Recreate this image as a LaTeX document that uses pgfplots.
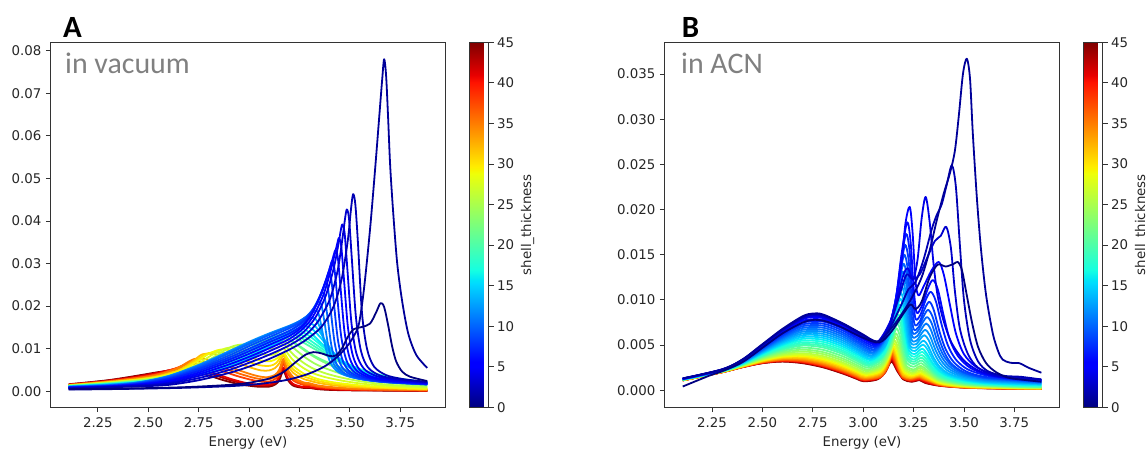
\documentclass[border=0pt]{standalone}
\usepackage{fontspec}
\setmainfont{DejaVu Sans}
\newfontfamily\calibri{Carlito}
\usepackage{pgfplots}
\pgfplotsset{compat=1.18}
\pgfkeys{/pgf/number format/assume math mode=true}

% matplotlib jet, sampled at the plotted shell thicknesses (t/45)
\definecolor{j0}{rgb}{0,0,0.5}
\definecolor{j1}{rgb}{0,0,0.601}
\definecolor{j2}{rgb}{0,0,0.702}
\definecolor{j3}{rgb}{0,0,0.803}
\definecolor{j4}{rgb}{0,0,0.904}
\definecolor{j5}{rgb}{0,0,1}
\definecolor{j6}{rgb}{0,0.033,1}
\definecolor{j7}{rgb}{0,0.122,1}
\definecolor{j8}{rgb}{0,0.211,1}
\definecolor{j9}{rgb}{0,0.3,1}
\definecolor{j10}{rgb}{0,0.389,1}
\definecolor{j11}{rgb}{0,0.478,1}
\definecolor{j12}{rgb}{0,0.567,1}
\definecolor{j13}{rgb}{0,0.656,1}
\definecolor{j14}{rgb}{0,0.744,1}
\definecolor{j15}{rgb}{0,0.833,1}
\definecolor{j16}{rgb}{0.018,0.922,0.95}
\definecolor{j17}{rgb}{0.09,1,0.877}
\definecolor{j18}{rgb}{0.161,1,0.806}
\definecolor{j19}{rgb}{0.233,1,0.735}
\definecolor{j20}{rgb}{0.305,1,0.663}
\definecolor{j21h}{rgb}{0.412,1,0.555}
\definecolor{j23}{rgb}{0.52,1,0.448}
\definecolor{j24h}{rgb}{0.628,1,0.34}
\definecolor{j26}{rgb}{0.735,1,0.233}
\definecolor{j27h}{rgb}{0.842,1,0.126}
\definecolor{j29}{rgb}{0.95,0.984,0.018}
\definecolor{j30h}{rgb}{1,0.859,0}
\definecolor{j32}{rgb}{1,0.737,0}
\definecolor{j33h}{rgb}{1,0.615,0}
\definecolor{j35}{rgb}{1,0.49,0}
\definecolor{j36}{rgb}{1,0.407,0}
\definecolor{j36h}{rgb}{1,0.366,0}
\definecolor{j38}{rgb}{1,0.243,0}
\definecolor{j39h}{rgb}{1,0.119,0}
\definecolor{j41}{rgb}{0.904,0,0}
\definecolor{j43}{rgb}{0.702,0,0}
\definecolor{j45}{rgb}{0.5,0,0}

\tikzset{lbl/.style={font=\fontsize{13.4}{16}\selectfont, text=black!85}}

\pgfplotsset{
  colormap={mjet}{rgb(0pt)=(0,0,0.5) rgb(11pt)=(0,0,1) rgb(12.5pt)=(0,0,1)
    rgb(34pt)=(0,0.86,1) rgb(35pt)=(0,0.9,0.968) rgb(37.5pt)=(0.081,1,0.887)
    rgb(64pt)=(0.935,1,0.032) rgb(65pt)=(0.968,0.963,0) rgb(66pt)=(1,0.926,0)
    rgb(89pt)=(1,0.074,0) rgb(91pt)=(0.909,0,0) rgb(100pt)=(0.5,0,0)},
  panel/.style={
    scale only axis, width=394.5bp, height=365bp, anchor=south west,
    xmin=2.016, xmax=3.973,
    tick pos=left, tick align=outside, major tick length=4.9bp,
    tick style={line width=0.9bp, color=black!80},
    axis line style={line width=0.9bp, color=black!80},
    xtick={2.25,2.5,2.75,3,3.25,3.5,3.75},
    xticklabel style={/pgf/number format/.cd, fixed, fixed zerofill, precision=2},
    xticklabel shift=1.5bp, yticklabel shift=1bp,
    tick label style={lbl},
    label style={lbl},
    xlabel={Energy (eV)},
    xlabel style={yshift=-2.5bp},
    colormap name=mjet, colorbar,
    point meta min=0, point meta max=45,
    colorbar shift/.style={xshift=24.5bp},
    colorbar style={
      scale only axis, width=19bp, height=365bp,
      at={(parent axis.north east)}, anchor=north west,
      ytick={0,5,...,45}, ytick pos=right, yticklabel pos=right,
      tick align=outside, major tick length=4.9bp,
      tick style={line width=0.9bp, color=black!80},
      axis line style={line width=0.9bp, color=black!80},
      tick label style={lbl}, label style={lbl},
      ylabel={shell\_thickness},
    },
    every axis plot/.append style={line width=1.8bp, smooth, line join=round},
  },
}

\begin{document}
\begin{tikzpicture}
\useasboundingbox (0,0) rectangle (1146bp,451bp);

% ---------- A: in vacuum (y values in units of 1e-3) ----------
\begin{axis}[panel, at={(50.7bp,43.7bp)},
  ymin=-3.76, ymax=81.97, ytick={0,10,...,80},
  yticklabels={0.00,0.01,0.02,0.03,0.04,0.05,0.06,0.07,0.08}]
\addplot[j45] coordinates {(2.105,1.65)(2.3,2.6)(2.45,3.7)(2.55,4.5)(2.64,5.0)(2.72,4.7)(2.8,3.7)(2.88,2.5)(2.96,1.6)(3.04,1.1)(3.1,1.1)(3.13,1.6)(3.15,2.6)(3.17,4.8)(3.19,2.8)(3.22,1.3)(3.27,0.8)(3.3,0.8)(3.34,0.5)(3.42,0.3)(3.55,0.2)(3.884,0.1)};
\addplot[j43] coordinates {(2.105,1.6)(2.3,2.52)(2.45,3.57)(2.55,4.42)(2.655,5.3)(2.74,5.0)(2.82,3.95)(2.9,2.7)(2.98,1.75)(3.05,1.3)(3.105,1.4)(3.135,2.1)(3.17,5.2)(3.19,3.05)(3.22,1.5)(3.27,0.9)(3.3,0.9)(3.34,0.6)(3.42,0.38)(3.55,0.25)(3.884,0.12)};
\addplot[j41] coordinates {(2.105,1.55)(2.3,2.45)(2.45,3.45)(2.55,4.35)(2.67,5.6)(2.75,5.3)(2.83,4.2)(2.91,2.9)(2.99,1.9)(3.06,1.5)(3.11,1.7)(3.14,2.6)(3.17,5.6)(3.19,3.3)(3.22,1.7)(3.27,1.0)(3.3,1.0)(3.34,0.7)(3.42,0.45)(3.55,0.3)(3.884,0.15)};
\addplot[j38] coordinates {(2.105,1.5)(2.3,2.35)(2.45,3.25)(2.55,4.1)(2.63,5.3)(2.7,6.4)(2.78,6.1)(2.86,4.9)(2.94,3.6)(3.02,2.6)(3.08,2.2)(3.12,2.6)(3.15,3.9)(3.17,6.5)(3.19,4.3)(3.22,2.5)(3.27,1.5)(3.3,1.4)(3.34,1.0)(3.42,0.65)(3.55,0.4)(3.884,0.2)};
\addplot[j36] coordinates {(2.105,1.47)(2.3,2.3)(2.45,3.15)(2.55,3.97)(2.64,5.3)(2.715,7.0)(2.795,6.7)(2.875,5.45)(2.955,4.1)(3.03,3.1)(3.085,2.75)(3.125,3.25)(3.15,4.5)(3.17,7.05)(3.19,4.8)(3.22,2.9)(3.27,1.8)(3.3,1.65)(3.34,1.2)(3.42,0.8)(3.55,0.5)(3.884,0.25)};
\addplot[j35] coordinates {(2.105,1.45)(2.3,2.25)(2.45,3.05)(2.55,3.85)(2.64,5.3)(2.73,7.6)(2.81,7.3)(2.89,6.0)(2.97,4.6)(3.04,3.6)(3.09,3.3)(3.13,3.9)(3.15,5.1)(3.17,7.6)(3.19,5.3)(3.22,3.3)(3.27,2.1)(3.3,1.9)(3.34,1.4)(3.42,0.95)(3.55,0.6)(3.884,0.3)};
\addplot[j32] coordinates {(2.105,1.4)(2.3,2.15)(2.45,2.85)(2.55,3.6)(2.65,5.0)(2.72,7.0)(2.77,8.7)(2.84,8.6)(2.92,7.2)(3.0,5.7)(3.06,4.9)(3.1,4.9)(3.13,5.5)(3.15,6.6)(3.17,8.4)(3.19,6.3)(3.22,4.3)(3.27,2.9)(3.3,2.5)(3.34,2.0)(3.42,1.4)(3.55,0.9)(3.884,0.45)};
\addplot[j30h] coordinates {(2.105,1.37)(2.3,2.1)(2.45,2.78)(2.55,3.47)(2.65,4.8)(2.73,6.95)(2.785,8.75)(2.85,9.2)(2.925,8.3)(3.0,6.9)(3.06,6.05)(3.105,6.0)(3.135,6.65)(3.17,8.75)(3.19,7.05)(3.22,5.1)(3.27,3.55)(3.3,3.05)(3.34,2.45)(3.42,1.75)(3.55,1.15)(3.7,0.75)(3.884,0.52)};
\addplot[j29] coordinates {(2.105,1.35)(2.3,2.05)(2.45,2.7)(2.55,3.35)(2.65,4.6)(2.74,6.9)(2.8,8.8)(2.86,9.8)(2.93,9.4)(3.0,8.1)(3.06,7.2)(3.11,7.1)(3.14,7.8)(3.17,9.1)(3.19,7.8)(3.22,5.9)(3.27,4.2)(3.3,3.6)(3.34,2.9)(3.42,2.1)(3.55,1.4)(3.7,0.9)(3.884,0.6)};
\addplot[j27h] coordinates {(2.105,1.32)(2.3,2.0)(2.45,2.62)(2.55,3.25)(2.65,4.4)(2.745,6.45)(2.815,8.5)(2.885,10.1)(2.95,10.2)(3.02,9.35)(3.08,8.6)(3.125,8.65)(3.17,10.05)(3.19,9.0)(3.22,7.25)(3.27,5.45)(3.32,4.2)(3.38,3.3)(3.46,2.5)(3.56,1.8)(3.7,1.2)(3.884,0.8)};
\addplot[j26] coordinates {(2.105,1.3)(2.3,1.95)(2.45,2.55)(2.55,3.15)(2.65,4.2)(2.75,6.0)(2.83,8.2)(2.91,10.4)(2.97,11.0)(3.04,10.6)(3.1,10.0)(3.14,10.2)(3.17,11.0)(3.19,10.2)(3.22,8.6)(3.27,6.7)(3.32,5.3)(3.38,4.2)(3.46,3.2)(3.56,2.3)(3.7,1.5)(3.884,1.0)};
\addplot[j24h] coordinates {(2.105,1.27)(2.3,1.9)(2.45,2.47)(2.55,3.05)(2.65,4.0)(2.75,5.6)(2.84,7.7)(2.92,9.9)(2.985,11.1)(3.05,11.3)(3.105,11.0)(3.14,11.15)(3.17,11.75)(3.2,11.0)(3.235,9.6)(3.28,7.9)(3.33,6.4)(3.39,5.2)(3.47,3.95)(3.57,2.85)(3.7,1.95)(3.884,1.25)};
\addplot[j23] coordinates {(2.105,1.25)(2.3,1.85)(2.45,2.4)(2.55,2.95)(2.65,3.8)(2.75,5.2)(2.85,7.2)(2.93,9.4)(3.0,11.2)(3.06,12.0)(3.11,12.0)(3.14,12.1)(3.17,12.5)(3.2,12.0)(3.24,10.8)(3.29,9.1)(3.34,7.6)(3.4,6.2)(3.48,4.7)(3.58,3.4)(3.7,2.4)(3.884,1.5)};
\addplot[j21h] coordinates {(2.105,1.22)(2.3,1.8)(2.45,2.35)(2.55,2.87)(2.65,3.65)(2.75,4.9)(2.85,6.75)(2.94,9.0)(3.015,11.0)(3.075,12.15)(3.12,12.5)(3.16,12.75)(3.19,12.6)(3.225,11.4)(3.27,10.0)(3.32,8.4)(3.38,7.0)(3.45,5.6)(3.54,4.2)(3.65,3.1)(3.884,1.7)};
\addplot[j20] coordinates {(2.105,1.2)(2.3,1.75)(2.45,2.3)(2.55,2.8)(2.65,3.5)(2.75,4.6)(2.85,6.3)(2.95,8.6)(3.03,10.8)(3.09,12.3)(3.13,13.0)(3.17,13.3)(3.21,12.9)(3.25,12.0)(3.3,10.6)(3.36,9.0)(3.43,7.3)(3.5,5.8)(3.6,4.2)(3.72,3.0)(3.884,1.9)};
\addplot[j19] coordinates {(2.105,1.17)(2.3,1.7)(2.45,2.25)(2.55,2.72)(2.65,3.4)(2.75,4.4)(2.85,6.0)(2.95,8.2)(3.03,10.35)(3.095,12.05)(3.14,13.05)(3.18,13.6)(3.22,13.35)(3.26,12.5)(3.31,11.0)(3.37,9.2)(3.44,7.35)(3.515,5.7)(3.61,4.2)(3.73,3.0)(3.884,2.0)};
\addplot[j18] coordinates {(2.105,1.15)(2.3,1.65)(2.45,2.2)(2.55,2.65)(2.65,3.3)(2.75,4.2)(2.85,5.7)(2.95,7.8)(3.03,9.9)(3.1,11.8)(3.15,13.1)(3.19,13.9)(3.23,13.8)(3.27,13.0)(3.32,11.4)(3.38,9.4)(3.45,7.4)(3.53,5.6)(3.62,4.2)(3.74,3.0)(3.884,2.1)};
\addplot[j17] coordinates {(2.105,1.12)(2.3,1.62)(2.45,2.15)(2.55,2.57)(2.65,3.2)(2.75,4.05)(2.85,5.45)(2.95,7.45)(3.03,9.45)(3.1,11.35)(3.155,12.85)(3.195,13.85)(3.235,14.25)(3.27,13.8)(3.315,12.45)(3.37,10.3)(3.435,7.95)(3.515,5.8)(3.6,4.3)(3.71,3.1)(3.884,2.05)};
\addplot[j16] coordinates {(2.105,1.1)(2.3,1.6)(2.45,2.1)(2.55,2.5)(2.65,3.1)(2.75,3.9)(2.85,5.2)(2.95,7.1)(3.03,9.0)(3.1,10.9)(3.16,12.6)(3.2,13.8)(3.24,14.7)(3.27,14.6)(3.31,13.5)(3.36,11.2)(3.42,8.5)(3.5,6.0)(3.58,4.4)(3.68,3.2)(3.78,2.5)(3.884,2.0)};
\addplot[j15] coordinates {(2.105,1.07)(2.3,1.57)(2.45,2.05)(2.55,2.42)(2.65,3.0)(2.75,3.8)(2.85,5.05)(2.95,6.85)(3.03,8.7)(3.1,10.55)(3.16,12.25)(3.205,13.6)(3.245,14.75)(3.28,15.25)(3.315,14.55)(3.355,12.6)(3.405,9.75)(3.47,6.9)(3.54,5.0)(3.63,3.6)(3.73,2.75)(3.884,1.95)};
\addplot[j14] coordinates {(2.105,1.05)(2.3,1.55)(2.45,2.0)(2.55,2.35)(2.65,2.9)(2.75,3.7)(2.85,4.9)(2.95,6.6)(3.03,8.4)(3.1,10.2)(3.16,11.9)(3.21,13.4)(3.25,14.8)(3.29,15.9)(3.32,15.6)(3.35,14.0)(3.39,11.0)(3.44,7.8)(3.5,5.5)(3.58,3.9)(3.68,2.9)(3.78,2.3)(3.884,1.9)};
\addplot[j13] coordinates {(2.105,1.05)(2.3,1.5)(2.45,2.05)(2.6,3.25)(2.75,4.95)(2.9,7.5)(3.0,9.5)(3.1,11.9)(3.2,14.2)(3.25,15.6)(3.29,16.8)(3.315,17.3)(3.33,17.0)(3.35,15.2)(3.375,11.6)(3.41,8.0)(3.45,5.6)(3.52,4.1)(3.6,3.2)(3.72,2.4)(3.884,1.8)};
\addplot[j12] coordinates {(2.105,1.05)(2.3,1.45)(2.45,2.1)(2.6,3.6)(2.75,6.2)(2.9,9.4)(3.0,11.6)(3.1,13.6)(3.2,15.4)(3.25,16.5)(3.29,17.7)(3.315,18.6)(3.332,19.0)(3.345,18.2)(3.36,15.0)(3.38,10.2)(3.405,6.6)(3.44,4.6)(3.5,3.4)(3.6,2.6)(3.72,2.1)(3.884,1.7)};
\addplot[j11] coordinates {(2.105,1.02)(2.3,1.4)(2.45,2.05)(2.6,3.5)(2.75,6.0)(2.9,9.15)(3.0,11.35)(3.1,13.4)(3.2,15.3)(3.25,16.45)(3.29,17.75)(3.315,19.0)(3.333,20.3)(3.348,21.0)(3.36,20.1)(3.374,16.3)(3.394,10.4)(3.42,6.45)(3.457,4.4)(3.52,3.2)(3.63,2.4)(3.884,1.65)};
\addplot[j10] coordinates {(2.105,1.0)(2.3,1.35)(2.45,2.0)(2.6,3.4)(2.75,5.8)(2.9,8.9)(3.0,11.1)(3.1,13.2)(3.2,15.2)(3.25,16.4)(3.29,17.8)(3.32,19.5)(3.34,21.2)(3.354,22.5)(3.364,23.2)(3.375,22.2)(3.389,17.5)(3.409,10.6)(3.435,6.3)(3.475,4.2)(3.54,3.0)(3.66,2.2)(3.884,1.6)};
\addplot[j9] coordinates {(2.105,0.98)(2.3,1.3)(2.45,1.9)(2.6,3.2)(2.75,5.5)(2.9,8.4)(3.0,10.6)(3.1,12.7)(3.2,14.8)(3.25,16.1)(3.29,17.6)(3.325,19.8)(3.35,22.2)(3.366,24.1)(3.374,25.0)(3.38,25.5)(3.391,24.3)(3.405,19.0)(3.425,11.3)(3.451,6.6)(3.49,4.3)(3.555,3.0)(3.67,2.2)(3.884,1.6)};
\addplot[j8] coordinates {(2.105,0.95)(2.3,1.25)(2.45,1.8)(2.6,3.0)(2.75,5.2)(2.9,7.9)(3.0,10.0)(3.1,12.1)(3.2,14.2)(3.25,15.7)(3.29,17.4)(3.33,20.1)(3.365,23.8)(3.38,25.8)(3.389,27.1)(3.396,28.0)(3.407,26.6)(3.421,20.6)(3.441,12.0)(3.467,6.9)(3.505,4.4)(3.57,3.0)(3.68,2.2)(3.884,1.7)};
\addplot[j7] coordinates {(2.105,0.9)(2.3,1.2)(2.45,1.7)(2.6,2.8)(2.75,4.8)(2.9,7.4)(3.0,9.4)(3.1,11.5)(3.2,13.6)(3.26,15.4)(3.3,17.6)(3.345,21.4)(3.38,25.7)(3.396,28.2)(3.405,29.7)(3.412,30.6)(3.423,29.0)(3.437,22.4)(3.457,12.9)(3.483,7.3)(3.52,4.6)(3.585,3.1)(3.69,2.3)(3.884,1.7)};
\addplot[j6] coordinates {(2.105,0.85)(2.3,1.15)(2.45,1.6)(2.6,2.5)(2.75,4.4)(2.9,6.9)(3.0,8.8)(3.1,10.9)(3.2,13.0)(3.26,15.0)(3.31,18.0)(3.355,22.7)(3.39,27.4)(3.411,30.5)(3.421,32.2)(3.429,33.2)(3.44,31.5)(3.454,24.2)(3.474,13.8)(3.5,7.7)(3.535,4.8)(3.6,3.2)(3.7,2.4)(3.884,1.8)};
\addplot[j5] coordinates {(2.105,0.8)(2.3,1.1)(2.45,1.5)(2.6,2.3)(2.75,4.0)(2.9,6.3)(3.0,8.1)(3.1,10.1)(3.2,12.3)(3.27,14.8)(3.32,17.8)(3.37,22.8)(3.405,28.4)(3.428,32.8)(3.438,34.8)(3.446,36.0)(3.457,34.2)(3.471,26.2)(3.491,14.8)(3.516,8.2)(3.55,5.0)(3.61,3.4)(3.7,2.6)(3.884,1.9)};
\addplot[j4] coordinates {(2.105,0.75)(2.3,1.05)(2.45,1.4)(2.6,2.0)(2.75,3.6)(2.9,5.6)(3.0,7.4)(3.1,9.4)(3.2,11.6)(3.27,13.9)(3.33,17.4)(3.38,22.4)(3.42,28.9)(3.445,35.0)(3.455,37.8)(3.463,39.2)(3.474,37.2)(3.488,28.5)(3.508,16.0)(3.533,8.8)(3.57,5.3)(3.63,3.6)(3.72,2.7)(3.884,2.0)};
\addplot[j3] coordinates {(2.105,0.7)(2.3,1.0)(2.45,1.3)(2.6,1.8)(2.75,3.1)(2.9,5.0)(3.0,6.7)(3.1,8.6)(3.2,10.8)(3.28,13.2)(3.34,16.3)(3.4,21.5)(3.44,28.5)(3.465,36.5)(3.476,40.5)(3.485,42.7)(3.496,40.5)(3.51,31.0)(3.53,17.5)(3.555,9.5)(3.59,5.6)(3.65,3.7)(3.74,2.8)(3.884,2.1)};
\addplot[j2] coordinates {(2.105,0.65)(2.3,0.95)(2.45,1.15)(2.6,1.5)(2.75,2.6)(2.9,4.3)(3.0,5.8)(3.1,7.6)(3.2,9.8)(3.28,12.0)(3.36,15.2)(3.42,20.0)(3.46,26.5)(3.49,35.5)(3.505,42.5)(3.516,46.3)(3.527,44.0)(3.54,35.0)(3.56,18.5)(3.585,10.0)(3.62,5.8)(3.68,3.8)(3.76,2.9)(3.884,2.2)};
\addplot[j1] coordinates {(2.105,0.4)(2.3,0.5)(2.5,0.65)(2.7,0.85)(2.9,1.2)(3.0,1.5)(3.1,2.0)(3.2,2.8)(3.3,4.2)(3.38,6.0)(3.44,8.2)(3.49,10.8)(3.52,13.0)(3.545,15.8)(3.57,24.0)(3.6,38.0)(3.625,52.0)(3.645,64.0)(3.66,73.0)(3.67,78.0)(3.68,74.0)(3.69,64.0)(3.7,53.0)(3.715,42.0)(3.735,30.0)(3.76,21.0)(3.79,13.5)(3.83,8.5)(3.884,5.5)};
\addplot[j0] coordinates {(2.105,0.5)(2.3,0.6)(2.5,0.75)(2.7,1.0)(2.9,1.5)(3.0,2.0)(3.1,3.0)(3.17,4.5)(3.23,6.8)(3.28,8.6)(3.32,9.2)(3.36,8.9)(3.4,8.3)(3.43,8.4)(3.46,10.0)(3.49,12.8)(3.52,14.6)(3.56,15.1)(3.6,15.9)(3.63,18.5)(3.652,20.7)(3.67,19.8)(3.69,15.5)(3.71,10.5)(3.73,7.0)(3.76,4.6)(3.8,3.4)(3.884,2.4)};
\end{axis}

% ---------- B: in ACN (y values in units of 1e-3) ----------
\begin{axis}[panel, at={(664.8bp,43.7bp)},
  ymin=-1.88, ymax=38.51, ytick={0,5,...,35},
  yticklabels={0.000,0.005,0.010,0.015,0.020,0.025,0.030,0.035}]
\addplot[j45] coordinates {(2.105,1.1)(2.3,2.0)(2.4,2.55)(2.5,3.0)(2.6,3.18)(2.7,3.0)(2.8,2.55)(2.9,1.85)(2.97,1.25)(3.003,1.0)(3.07,1.2)(3.11,2.0)(3.14,3.2)(3.17,2.1)(3.2,1.2)(3.24,0.95)(3.28,1.12)(3.31,0.8)(3.38,0.5)(3.5,0.3)(3.65,0.2)(3.884,0.15)};
\addplot[j43] coordinates {(2.105,1.1)(2.3,2.0)(2.4,2.56)(2.5,3.02)(2.6,3.21)(2.7,3.05)(2.8,2.6)(2.9,1.9)(2.97,1.3)(3.003,1.04)(3.07,1.25)(3.11,2.1)(3.14,3.35)(3.17,2.2)(3.2,1.27)(3.24,1.0)(3.28,1.17)(3.31,0.85)(3.38,0.52)(3.5,0.32)(3.65,0.22)(3.884,0.17)};
\addplot[j41] coordinates {(2.105,1.1)(2.3,2.01)(2.4,2.57)(2.5,3.04)(2.6,3.25)(2.7,3.1)(2.8,2.66)(2.9,1.96)(2.97,1.35)(3.004,1.09)(3.07,1.3)(3.11,2.2)(3.141,3.5)(3.17,2.3)(3.2,1.35)(3.24,1.05)(3.28,1.22)(3.31,0.9)(3.38,0.55)(3.5,0.35)(3.65,0.25)(3.884,0.2)};
\addplot[j39h] coordinates {(2.105,1.105)(2.3,2.01)(2.4,2.575)(2.5,3.06)(2.6,3.28)(2.7,3.15)(2.8,2.71)(2.9,2.01)(2.97,1.4)(3.005,1.13)(3.08,1.4)(3.115,2.35)(3.132,3.2)(3.142,3.67)(3.157,3.1)(3.175,2.15)(3.197,1.38)(3.235,1.1)(3.28,1.28)(3.3,1.12)(3.34,0.8)(3.38,0.55)(3.45,0.4)(3.55,0.3)(3.7,0.22)(3.884,0.18)};
\addplot[j38] coordinates {(2.105,1.11)(2.3,2.01)(2.4,2.58)(2.5,3.08)(2.6,3.32)(2.7,3.2)(2.8,2.77)(2.9,2.07)(2.97,1.45)(3.006,1.17)(3.085,1.45)(3.12,2.45)(3.133,3.35)(3.143,3.85)(3.158,3.2)(3.176,2.2)(3.196,1.4)(3.23,1.15)(3.26,1.28)(3.28,1.35)(3.3,1.17)(3.34,0.85)(3.37,0.62)(3.42,0.45)(3.5,0.3)(3.6,0.24)(3.75,0.18)(3.884,0.16)};
\addplot[j36h] coordinates {(2.105,1.11)(2.3,2.015)(2.4,2.59)(2.5,3.11)(2.6,3.37)(2.7,3.28)(2.8,2.85)(2.9,2.15)(2.97,1.53)(3.006,1.23)(3.085,1.52)(3.12,2.57)(3.134,3.52)(3.144,4.02)(3.159,3.35)(3.177,2.3)(3.197,1.47)(3.231,1.22)(3.26,1.35)(3.28,1.42)(3.3,1.23)(3.34,0.9)(3.37,0.66)(3.42,0.47)(3.5,0.32)(3.6,0.25)(3.75,0.19)(3.884,0.17)};
\addplot[j35] coordinates {(2.105,1.11)(2.3,2.02)(2.4,2.6)(2.5,3.14)(2.6,3.42)(2.7,3.35)(2.8,2.94)(2.9,2.23)(2.97,1.61)(3.007,1.3)(3.085,1.6)(3.12,2.7)(3.135,3.7)(3.145,4.2)(3.16,3.5)(3.178,2.4)(3.198,1.55)(3.232,1.3)(3.26,1.42)(3.28,1.5)(3.3,1.3)(3.34,0.95)(3.37,0.7)(3.42,0.5)(3.5,0.34)(3.6,0.27)(3.75,0.2)(3.884,0.18)};
\addplot[j33h] coordinates {(2.105,1.115)(2.3,2.025)(2.4,2.62)(2.5,3.18)(2.6,3.49)(2.7,3.45)(2.8,3.06)(2.9,2.34)(2.97,1.71)(3.008,1.38)(3.085,1.72)(3.12,2.85)(3.136,3.85)(3.147,4.35)(3.162,3.65)(3.179,2.5)(3.199,1.62)(3.233,1.36)(3.261,1.5)(3.281,1.57)(3.301,1.37)(3.34,1.0)(3.37,0.74)(3.42,0.52)(3.5,0.36)(3.6,0.28)(3.75,0.22)(3.884,0.19)};
\addplot[j32] coordinates {(2.105,1.12)(2.3,2.03)(2.4,2.63)(2.5,3.21)(2.6,3.56)(2.7,3.55)(2.8,3.17)(2.9,2.45)(2.97,1.81)(3.01,1.47)(3.085,1.85)(3.12,3.0)(3.137,4.0)(3.148,4.5)(3.163,3.8)(3.18,2.6)(3.2,1.7)(3.235,1.42)(3.262,1.57)(3.282,1.65)(3.302,1.45)(3.34,1.05)(3.37,0.78)(3.42,0.55)(3.5,0.38)(3.6,0.3)(3.75,0.23)(3.884,0.2)};
\addplot[j30h] coordinates {(2.105,1.125)(2.3,2.04)(2.4,2.65)(2.5,3.26)(2.6,3.65)(2.7,3.68)(2.8,3.31)(2.9,2.59)(2.97,1.94)(3.012,1.58)(3.085,1.97)(3.12,3.15)(3.139,4.2)(3.15,4.7)(3.165,4.0)(3.183,2.75)(3.203,1.82)(3.238,1.53)(3.264,1.68)(3.283,1.77)(3.303,1.57)(3.34,1.15)(3.37,0.84)(3.42,0.6)(3.5,0.42)(3.6,0.32)(3.75,0.25)(3.884,0.21)};
\addplot[j29] coordinates {(2.105,1.13)(2.3,2.05)(2.4,2.67)(2.5,3.31)(2.6,3.73)(2.7,3.8)(2.8,3.45)(2.9,2.73)(2.97,2.07)(3.013,1.69)(3.085,2.1)(3.12,3.3)(3.14,4.4)(3.152,4.9)(3.167,4.2)(3.185,2.9)(3.205,1.95)(3.24,1.65)(3.265,1.8)(3.283,1.9)(3.303,1.7)(3.34,1.25)(3.37,0.9)(3.42,0.65)(3.5,0.45)(3.6,0.35)(3.75,0.27)(3.884,0.23)};
\addplot[j27h] coordinates {(2.105,1.135)(2.3,2.055)(2.4,2.7)(2.5,3.37)(2.6,3.83)(2.7,3.95)(2.8,3.62)(2.9,2.9)(2.97,2.22)(3.015,1.82)(3.087,2.3)(3.122,3.55)(3.142,4.7)(3.154,5.2)(3.17,4.5)(3.188,3.15)(3.208,2.12)(3.243,1.8)(3.266,1.97)(3.284,2.07)(3.304,1.85)(3.34,1.37)(3.37,1.0)(3.42,0.72)(3.5,0.5)(3.6,0.38)(3.75,0.3)(3.884,0.25)};
\addplot[j26] coordinates {(2.105,1.14)(2.3,2.06)(2.4,2.72)(2.5,3.43)(2.6,3.93)(2.7,4.1)(2.8,3.79)(2.9,3.06)(2.97,2.37)(3.017,1.95)(3.09,2.5)(3.125,3.8)(3.145,5.0)(3.157,5.5)(3.172,4.8)(3.19,3.4)(3.21,2.3)(3.245,1.95)(3.268,2.15)(3.285,2.25)(3.305,2.0)(3.34,1.5)(3.37,1.1)(3.42,0.8)(3.5,0.55)(3.6,0.42)(3.75,0.32)(3.884,0.28)};
\addplot[j24h] coordinates {(2.105,1.15)(2.3,2.075)(2.4,2.75)(2.5,3.51)(2.6,4.07)(2.7,4.3)(2.8,4.01)(2.9,3.28)(2.97,2.58)(3.02,2.12)(3.09,2.7)(3.128,4.1)(3.148,5.35)(3.16,5.9)(3.175,5.2)(3.193,3.7)(3.213,2.5)(3.248,2.12)(3.269,2.35)(3.286,2.48)(3.306,2.2)(3.34,1.65)(3.37,1.2)(3.42,0.88)(3.5,0.6)(3.6,0.46)(3.75,0.35)(3.884,0.3)};
\addplot[j23] coordinates {(2.105,1.16)(2.3,2.09)(2.4,2.78)(2.5,3.59)(2.6,4.21)(2.7,4.5)(2.8,4.23)(2.9,3.5)(2.97,2.78)(3.022,2.3)(3.09,2.9)(3.13,4.4)(3.15,5.7)(3.163,6.3)(3.178,5.6)(3.195,4.0)(3.215,2.7)(3.25,2.3)(3.27,2.55)(3.287,2.7)(3.307,2.4)(3.34,1.8)(3.37,1.3)(3.42,0.95)(3.5,0.65)(3.6,0.5)(3.75,0.38)(3.884,0.33)};
\addplot[j21h] coordinates {(2.105,1.165)(2.3,2.1)(2.4,2.82)(2.5,3.68)(2.6,4.36)(2.7,4.72)(2.8,4.48)(2.9,3.75)(2.97,3.01)(3.025,2.5)(3.09,3.15)(3.13,4.7)(3.152,6.15)(3.166,6.85)(3.181,6.1)(3.197,4.4)(3.217,3.0)(3.25,2.6)(3.271,2.85)(3.288,3.0)(3.308,2.68)(3.34,2.0)(3.37,1.45)(3.42,1.05)(3.5,0.72)(3.6,0.55)(3.75,0.42)(3.884,0.37)};
\addplot[j20] coordinates {(2.105,1.17)(2.3,2.11)(2.4,2.85)(2.5,3.76)(2.6,4.51)(2.7,4.95)(2.8,4.74)(2.9,4.0)(2.97,3.24)(3.028,2.69)(3.09,3.4)(3.13,5.0)(3.155,6.6)(3.17,7.4)(3.185,6.6)(3.2,4.8)(3.22,3.3)(3.25,2.9)(3.273,3.15)(3.29,3.3)(3.31,2.95)(3.34,2.2)(3.37,1.6)(3.42,1.15)(3.5,0.8)(3.6,0.6)(3.75,0.45)(3.884,0.4)};
\addplot[j19] coordinates {(2.105,1.18)(2.3,2.12)(2.4,2.88)(2.5,3.83)(2.6,4.63)(2.7,5.12)(2.8,4.93)(2.9,4.2)(2.97,3.42)(3.03,2.84)(3.095,3.65)(3.135,5.45)(3.158,7.05)(3.172,7.9)(3.188,7.1)(3.203,5.15)(3.222,3.55)(3.251,3.15)(3.274,3.45)(3.291,3.6)(3.311,3.22)(3.34,2.4)(3.37,1.75)(3.42,1.25)(3.5,0.88)(3.6,0.65)(3.75,0.5)(3.884,0.45)};
\addplot[j18] coordinates {(2.105,1.19)(2.3,2.13)(2.4,2.91)(2.5,3.9)(2.6,4.75)(2.7,5.3)(2.8,5.13)(2.9,4.39)(2.97,3.6)(3.032,2.99)(3.1,3.9)(3.14,5.9)(3.16,7.5)(3.175,8.4)(3.19,7.6)(3.205,5.5)(3.225,3.8)(3.252,3.4)(3.275,3.75)(3.292,3.9)(3.312,3.5)(3.34,2.6)(3.37,1.9)(3.42,1.35)(3.5,0.95)(3.6,0.7)(3.75,0.55)(3.884,0.5)};
\addplot[j17] coordinates {(2.105,1.195)(2.3,2.145)(2.4,2.94)(2.5,3.98)(2.6,4.89)(2.7,5.5)(2.8,5.36)(2.9,4.61)(2.97,3.8)(3.035,3.16)(3.1,4.15)(3.14,6.25)(3.162,7.95)(3.178,8.95)(3.193,8.15)(3.208,5.9)(3.227,4.1)(3.254,3.7)(3.277,4.07)(3.294,4.25)(3.314,3.8)(3.343,2.8)(3.373,2.05)(3.42,1.47)(3.5,1.02)(3.6,0.75)(3.75,0.6)(3.884,0.55)};
\addplot[j16] coordinates {(2.105,1.2)(2.3,2.16)(2.4,2.97)(2.5,4.06)(2.6,5.03)(2.7,5.7)(2.8,5.59)(2.9,4.83)(2.97,4.01)(3.038,3.34)(3.1,4.4)(3.14,6.6)(3.163,8.4)(3.18,9.5)(3.195,8.7)(3.21,6.3)(3.228,4.4)(3.255,4.0)(3.278,4.4)(3.295,4.6)(3.315,4.1)(3.345,3.0)(3.375,2.2)(3.42,1.6)(3.5,1.1)(3.6,0.8)(3.75,0.65)(3.884,0.6)};
\addplot[j15] coordinates {(2.105,1.205)(2.3,2.17)(2.4,3.0)(2.5,4.13)(2.6,5.17)(2.7,5.9)(2.8,5.81)(2.9,5.05)(2.97,4.21)(3.04,3.51)(3.105,4.7)(3.145,7.15)(3.167,9.0)(3.183,10.15)(3.198,9.3)(3.213,6.75)(3.23,4.7)(3.257,4.35)(3.28,4.8)(3.298,5.05)(3.318,4.55)(3.348,3.3)(3.378,2.4)(3.42,1.75)(3.5,1.2)(3.6,0.88)(3.75,0.72)(3.884,0.65)};
\addplot[j14] coordinates {(2.105,1.21)(2.3,2.18)(2.4,3.03)(2.5,4.21)(2.6,5.3)(2.7,6.1)(2.8,6.03)(2.9,5.27)(2.97,4.41)(3.043,3.68)(3.11,5.0)(3.15,7.7)(3.17,9.6)(3.186,10.8)(3.2,9.9)(3.215,7.2)(3.232,5.0)(3.258,4.7)(3.282,5.2)(3.3,5.5)(3.32,5.0)(3.35,3.6)(3.38,2.6)(3.42,1.9)(3.5,1.3)(3.6,0.95)(3.75,0.8)(3.884,0.7)};
\addplot[j13] coordinates {(2.105,1.22)(2.3,2.19)(2.4,3.06)(2.5,4.29)(2.6,5.44)(2.7,6.3)(2.8,6.25)(2.9,5.49)(2.97,4.61)(3.045,3.85)(3.11,5.3)(3.15,8.15)(3.172,10.3)(3.19,11.55)(3.204,10.55)(3.219,7.6)(3.236,5.3)(3.262,5.1)(3.286,5.75)(3.304,6.1)(3.325,5.55)(3.355,4.0)(3.385,2.9)(3.425,2.1)(3.5,1.45)(3.6,1.05)(3.75,0.87)(3.884,0.75)};
\addplot[j12] coordinates {(2.105,1.23)(2.3,2.2)(2.4,3.09)(2.5,4.37)(2.6,5.58)(2.7,6.5)(2.8,6.48)(2.9,5.71)(2.97,4.82)(3.048,4.03)(3.11,5.6)(3.15,8.6)(3.175,11.0)(3.193,12.3)(3.208,11.2)(3.223,8.0)(3.24,5.6)(3.265,5.5)(3.29,6.3)(3.308,6.7)(3.33,6.1)(3.36,4.4)(3.39,3.2)(3.43,2.3)(3.5,1.6)(3.6,1.15)(3.75,0.95)(3.884,0.8)};
\addplot[j11] coordinates {(2.105,1.235)(2.3,2.215)(2.4,3.12)(2.5,4.45)(2.6,5.72)(2.7,6.7)(2.8,6.7)(2.9,5.93)(2.97,5.02)(3.05,4.2)(3.115,5.9)(3.155,9.1)(3.178,11.6)(3.197,13.15)(3.212,12.0)(3.227,8.55)(3.243,6.0)(3.268,6.0)(3.293,6.9)(3.313,7.4)(3.335,6.75)(3.365,4.85)(3.395,3.5)(3.435,2.5)(3.5,1.75)(3.6,1.25)(3.75,1.02)(3.884,0.85)};
\addplot[j10] coordinates {(2.105,1.24)(2.3,2.23)(2.4,3.15)(2.5,4.53)(2.6,5.85)(2.7,6.9)(2.8,6.93)(2.9,6.15)(2.97,5.23)(3.053,4.38)(3.12,6.2)(3.16,9.6)(3.18,12.2)(3.2,14.0)(3.215,12.8)(3.23,9.1)(3.245,6.4)(3.27,6.5)(3.295,7.5)(3.317,8.1)(3.34,7.4)(3.37,5.3)(3.4,3.8)(3.44,2.7)(3.5,1.9)(3.6,1.35)(3.75,1.1)(3.884,0.9)};
\addplot[j9] coordinates {(2.105,1.25)(2.3,2.24)(2.4,3.18)(2.5,4.61)(2.6,5.99)(2.7,7.1)(2.8,7.16)(2.9,6.37)(2.97,5.43)(3.055,4.55)(3.12,6.3)(3.16,9.8)(3.185,13.2)(3.204,15.0)(3.22,13.6)(3.235,9.6)(3.25,6.8)(3.275,7.0)(3.3,8.2)(3.322,8.9)(3.345,8.1)(3.375,5.8)(3.405,4.1)(3.44,2.9)(3.5,2.0)(3.6,1.4)(3.75,1.15)(3.884,0.95)};
\addplot[j8] coordinates {(2.105,1.26)(2.3,2.25)(2.4,3.22)(2.5,4.69)(2.6,6.12)(2.7,7.3)(2.8,7.38)(2.9,6.6)(2.97,5.64)(3.058,4.73)(3.12,6.4)(3.16,9.9)(3.19,14.0)(3.208,16.1)(3.225,14.5)(3.24,10.2)(3.255,7.3)(3.28,7.6)(3.305,9.0)(3.328,9.8)(3.35,8.9)(3.38,6.4)(3.41,4.5)(3.45,3.1)(3.51,2.1)(3.6,1.5)(3.75,1.2)(3.884,1.0)};
\addplot[j7] coordinates {(2.105,1.27)(2.3,2.26)(2.4,3.25)(2.5,4.76)(2.6,6.26)(2.7,7.5)(2.8,7.61)(2.9,6.81)(2.97,5.84)(3.061,4.9)(3.12,6.5)(3.16,9.9)(3.19,14.6)(3.213,17.3)(3.23,15.5)(3.245,10.8)(3.26,7.9)(3.285,8.4)(3.31,10.0)(3.335,10.9)(3.36,9.9)(3.39,7.2)(3.42,5.0)(3.46,3.4)(3.52,2.3)(3.62,1.6)(3.75,1.25)(3.884,1.05)};
\addplot[j6] coordinates {(2.105,1.27)(2.3,2.27)(2.4,3.28)(2.5,4.84)(2.6,6.4)(2.7,7.7)(2.8,7.83)(2.9,7.03)(2.97,6.05)(3.063,5.07)(3.12,6.5)(3.16,9.8)(3.19,15.0)(3.218,18.6)(3.235,16.5)(3.25,11.5)(3.265,8.6)(3.29,9.3)(3.32,11.2)(3.345,12.2)(3.37,11.2)(3.4,8.2)(3.43,5.6)(3.47,3.8)(3.53,2.5)(3.62,1.7)(3.75,1.3)(3.884,1.1)};
\addplot[j5] coordinates {(2.105,1.28)(2.3,2.28)(2.4,3.3)(2.5,4.9)(2.6,6.5)(2.7,7.85)(2.75,8.1)(2.8,8.0)(2.9,7.2)(2.97,6.2)(3.065,5.2)(3.12,6.4)(3.16,9.5)(3.19,14.0)(3.21,18.5)(3.231,20.3)(3.245,17.5)(3.26,12.0)(3.275,10.5)(3.3,11.5)(3.34,13.3)(3.375,14.2)(3.4,12.8)(3.43,9.5)(3.46,6.3)(3.5,4.0)(3.56,2.6)(3.65,1.7)(3.75,1.35)(3.884,1.15)};
\addplot[j4] coordinates {(2.105,1.29)(2.3,2.29)(2.4,3.32)(2.5,4.95)(2.6,6.58)(2.7,7.92)(2.75,8.24)(2.8,8.1)(2.9,7.25)(2.99,6.0)(3.065,5.25)(3.13,7.4)(3.17,10.2)(3.2,12.8)(3.222,13.5)(3.248,12.3)(3.27,14.5)(3.29,19.0)(3.31,21.4)(3.33,18.6)(3.35,13.8)(3.37,10.4)(3.4,7.6)(3.44,5.2)(3.5,3.3)(3.57,2.2)(3.65,1.6)(3.75,1.3)(3.884,1.15)};
\addplot[j3] coordinates {(2.105,1.3)(2.3,2.3)(2.4,3.35)(2.5,5.0)(2.6,6.65)(2.7,8.0)(2.75,8.33)(2.8,8.2)(2.9,7.3)(2.99,6.1)(3.07,5.3)(3.13,7.2)(3.18,10.5)(3.215,12.8)(3.245,12.3)(3.28,12.8)(3.32,14.8)(3.355,16.5)(3.385,17.1)(3.412,18.1)(3.435,15.8)(3.455,11.0)(3.48,6.8)(3.52,4.0)(3.57,2.5)(3.65,1.7)(3.75,1.4)(3.884,1.2)};
\addplot[j2] coordinates {(2.105,1.31)(2.3,2.31)(2.4,3.38)(2.5,5.05)(2.6,6.72)(2.7,8.1)(2.75,8.42)(2.8,8.3)(2.9,7.35)(2.99,6.2)(3.07,5.35)(3.13,6.8)(3.19,9.5)(3.225,11.2)(3.26,12.0)(3.3,14.5)(3.34,17.8)(3.365,19.4)(3.39,20.6)(3.415,22.8)(3.44,24.9)(3.46,22.5)(3.48,16.0)(3.5,10.0)(3.53,5.6)(3.57,3.2)(3.62,2.1)(3.7,1.6)(3.78,1.5)(3.884,1.2)};
\addplot[j1] coordinates {(2.105,1.32)(2.3,2.32)(2.4,3.4)(2.5,5.1)(2.6,6.8)(2.7,8.2)(2.75,8.5)(2.8,8.4)(2.9,7.4)(2.99,6.3)(3.07,5.4)(3.13,6.6)(3.19,8.4)(3.24,10.2)(3.29,12.5)(3.33,15.5)(3.365,18.8)(3.4,21.8)(3.43,24.0)(3.455,26.5)(3.475,30.5)(3.495,35.0)(3.514,36.7)(3.53,34.5)(3.544,28.4)(3.565,21.0)(3.585,15.5)(3.61,10.5)(3.643,6.3)(3.67,4.3)(3.692,3.4)(3.73,3.05)(3.775,3.0)(3.82,2.5)(3.884,1.95)};
\addplot[j0] coordinates {(2.105,0.42)(2.24,1.65)(2.3,2.1)(2.4,3.1)(2.5,4.7)(2.6,6.3)(2.7,7.5)(2.76,7.8)(2.82,7.6)(2.9,6.9)(2.99,5.9)(3.08,5.3)(3.14,6.5)(3.2,8.5)(3.235,9.5)(3.26,9.0)(3.29,9.8)(3.33,12.5)(3.37,13.9)(3.41,13.7)(3.45,14.0)(3.47,14.2)(3.49,13.3)(3.51,11.0)(3.54,7.5)(3.57,4.8)(3.61,3.0)(3.66,2.0)(3.72,1.4)(3.8,1.15)(3.884,0.95)};
\end{axis}

% panel letters and medium labels
\node[anchor=base west, inner sep=0pt, font=\calibri\bfseries\fontsize{31}{31}\selectfont] at (63bp,413bp) {A};
\node[anchor=base west, inner sep=0pt, font=\calibri\bfseries\fontsize{31}{31}\selectfont] at (681.7bp,413.3bp) {B};
\node[anchor=base west, inner sep=0pt, text=black!50, font=\calibri\fontsize{30}{30}\selectfont] at (65bp,377.7bp) {in vacuum};
\node[anchor=base west, inner sep=0pt, text=black!50, font=\calibri\fontsize{30}{30}\selectfont] at (681bp,377.7bp) {in ACN};
\end{tikzpicture}
\end{document}
